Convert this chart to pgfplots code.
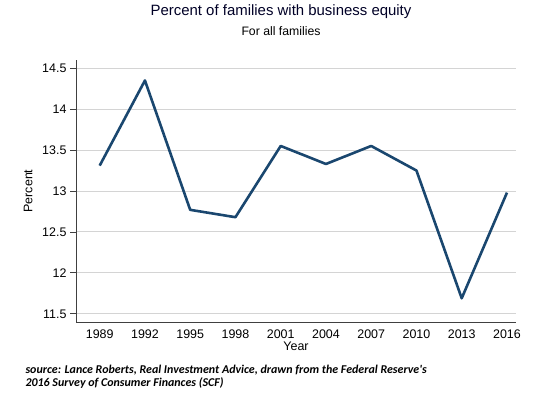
\documentclass[border=0pt]{standalone}
\usepackage{fontspec}
\setmainfont{Liberation Sans}
\newfontfamily\calibri{Carlito}
\usepackage{pgfplots}
\pgfplotsset{compat=1.18}
\definecolor{stnavy}{HTML}{1A476F}
\definecolor{gridc}{HTML}{D4D4D4}
\begin{document}
\begin{tikzpicture}[x=1bp,y=1bp]
\path[use as bounding box] (0,0) rectangle (550,400);
\begin{axis}[
  at={(76bp,78bp)}, anchor=south west,
  width=440bp, height=262bp, scale only axis,
  xmin=1987.43, xmax=2016.6,
  ymin=11.40, ymax=14.60,
  axis x line=bottom, axis y line=left,
  axis line style={-, line width=0.8bp, draw=black!75},
  xtick={1989,1992,...,2016},
  ytick={11.5,12,...,14.5},
  yticklabels={11.5,12,12.5,13,13.5,14,14.5},
  xticklabels={1989,1992,1995,1998,2001,2004,2007,2010,2013,2016},
  x tick style={draw=none},
  y tick style={draw=black!75, line width=0.8bp},
  tick align=outside,
  major tick length=6bp,
  ymajorgrids,
  grid style={gridc, line width=1bp},
  tick label style={font=\fontsize{12.5}{14}\selectfont},
  /pgf/number format/assume math mode=true,
  xticklabel style={yshift=2bp},
  xlabel={Year}, ylabel={Percent},
  label style={font=\fontsize{12.5}{14}\selectfont},
  xlabel style={yshift=3bp},
  ylabel style={yshift=3bp},
  clip=false,
]
\addplot[stnavy, line width=2.6bp, line join=round] coordinates {
(1989,13.31) (1992,14.35) (1995,12.77) (1998,12.68) (2001,13.55)
(2004,13.33) (2007,13.55) (2010,13.25) (2013,11.69) (2016,12.98)
};
\end{axis}
\node[font=\fontsize{15}{17}\selectfont, text=black!85!blue] at (281,388) {Percent of families with business equity};
\node[font=\fontsize{12.3}{14}\selectfont] at (281,369) {For all families};
\node[anchor=west, align=left, font=\calibri\bfseries\itshape\fontsize{12}{13}\selectfont] at (22,23) {source: Lance Roberts, Real Investment Advice, drawn from the Federal Reserve's\\2016 Survey of Consumer Finances (SCF)};
\end{tikzpicture}
\end{document}
